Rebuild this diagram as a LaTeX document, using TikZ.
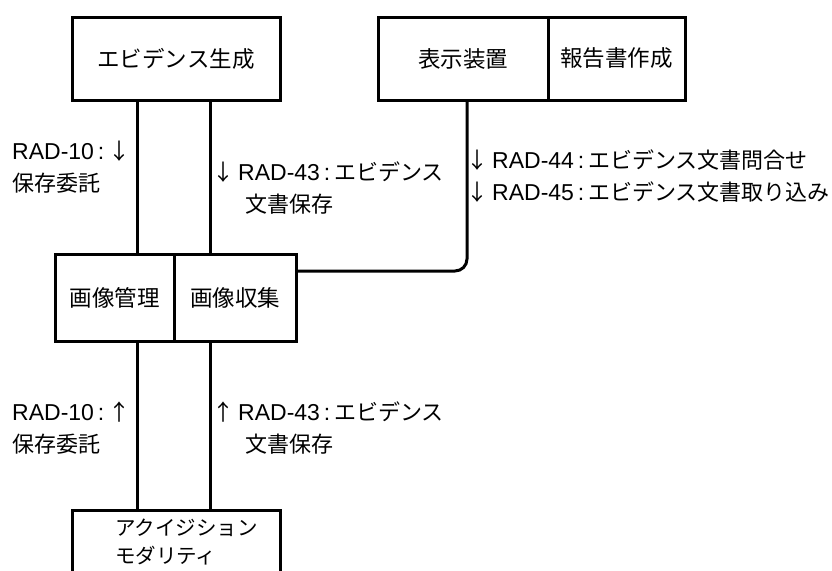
\documentclass[tikz,border=0pt]{standalone}
\usepackage{fontspec}
\setmainfont{Liberation Sans}
\newfontfamily\jp{Noto Sans CJK JP}
\newcommand{\J}[1]{{\jp\fontsize{22}{32}\selectfont #1}}
\newcommand{\cln}{\makebox[14pt]{:}}
\newcommand{\dn}{\makebox[20pt][l]{\hspace{-6pt}\J{↓}}}
\newcommand{\up}{\makebox[20pt][l]{\hspace{-6pt}\J{↑}}}
\begin{document}
\begin{tikzpicture}[x=1pt,y=-1pt,
  conn/.style={line width=3pt},
  box/.style={draw, line width=3pt, inner sep=0pt, minimum height=83pt, font=\fontsize{22.5}{26}\selectfont\jp},
  lbl/.style={anchor=west, inner sep=0pt, align=left, font=\fontsize{23}{32}\selectfont}]
\useasboundingbox (0,0) rectangle (832,570);
\clip (0,0) rectangle (832,570);
% boxes
\node[box, minimum width=208pt] (ev) at (176,58.5) {エビデンス生成};
\node[box, minimum width=170pt] (disp) at (463,58.5) {表示装置};
\node[box, minimum width=137pt] (rep) at (616.5,58.5) {報告書作成};
\node[box, minimum width=119pt, minimum height=87pt] (mgr) at (114.5,297.5) {画像管理};
\node[box, minimum width=122pt, minimum height=87pt] (col) at (235,297.5) {画像収集};
\node[box, minimum width=208pt, minimum height=90pt] (acq) at (176,555) {};
\node[anchor=west, inner sep=0pt, align=left, font=\fontsize{20.5}{28}\selectfont\jp] (acqtxt) at (115,542) {アクイジション\\モダリティ};
% connector x positions
\coordinate (l1) at (137,0);
\coordinate (l2) at (210,0);
\coordinate (l3) at (467,0);
\coordinate (h1) at (0,271);
% connectors
\draw[conn] (ev.south -| l1) -- (mgr.north -| l1);
\draw[conn] (ev.south -| l2) -- (col.north -| l2);
\draw[conn] (mgr.south -| l1) -- (acq.north -| l1);
\draw[conn] (col.south -| l2) -- (acq.north -| l2);
\draw[conn, rounded corners=12pt] (col.east |- h1) -| (disp.south -| l3);
% labels
\node[lbl] (t10u) at (12,167) {RAD-10\cln\hspace{0pt}\J{↓}\\\J{保存委託}};
\node[lbl] (t43u) at (218,188) {\dn RAD-43\cln\J{エビデンス}\\\hspace*{27pt}\J{文書保存}};
\node[lbl] (t44) at (472,176.5) {\dn RAD-44\cln\J{エビデンス文書問合せ}\\\dn RAD-45\cln\J{エビデンス文書取り込み}};
\node[lbl] (t10d) at (12,428.5) {RAD-10\cln\hspace{0pt}\J{↑}\\\J{保存委託}};
\node[lbl] (t43d) at (218,428.5) {\up RAD-43\cln\J{エビデンス}\\\hspace*{27pt}\J{文書保存}};
\end{tikzpicture}
\end{document}
